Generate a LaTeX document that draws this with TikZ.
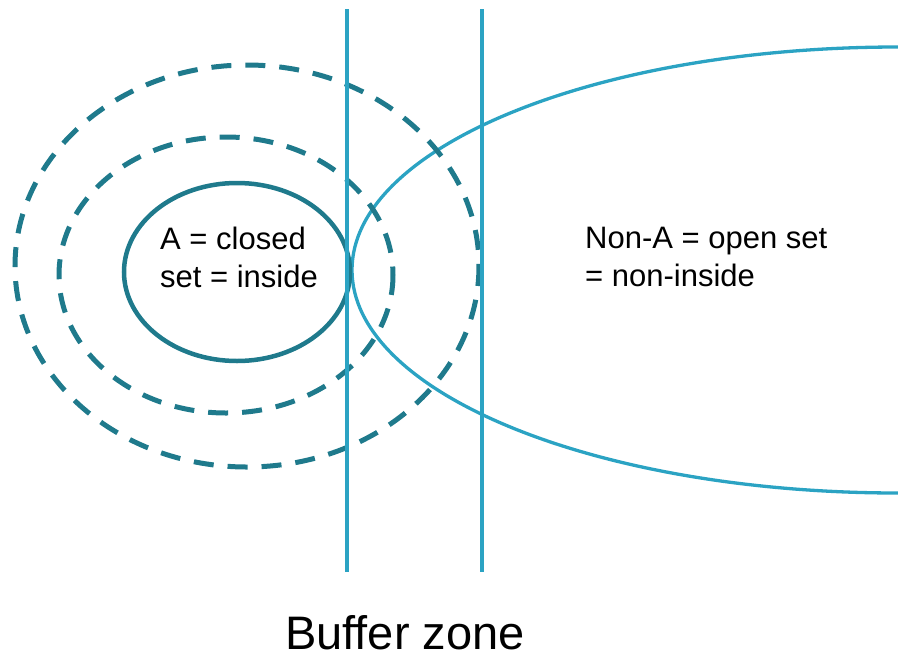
\documentclass[tikz,border=0pt]{standalone}
\usepackage{fontspec}
\setmainfont{Liberation Sans}
\definecolor{darkteal}{HTML}{1F7A8C}
\definecolor{lightteal}{HTML}{2BA3C3}
\begin{document}
\begin{tikzpicture}[x=1pt,y=-1pt,
  dashring/.style={draw=darkteal,line width=5pt,dash pattern=on 20pt off 14pt},
  solidring/.style={draw=darkteal,line width=4.5pt},
  bufline/.style={draw=lightteal,line width=3.8pt},
  openset/.style={draw=lightteal,line width=3.3pt},
  lbl/.style={font=\fontsize{31}{38}\selectfont,align=left,inner sep=0pt,anchor=base west},
  biglbl/.style={font=\fontsize{47}{56}\selectfont,inner sep=0pt,text depth=0pt,anchor=base west}]
\useasboundingbox (0,0) rectangle (898,657);
% open set (Non-A)
\draw[openset] (898,47) arc[start angle=270,end angle=90,x radius=546,y radius=223];
% dashed neighbourhoods
\draw[dashring] (247,266) ellipse[x radius=232,y radius=201];
\draw[dashring] (226,275) ellipse[x radius=167,y radius=138];
% closed set A
\draw[solidring] (237,272) ellipse[x radius=113,y radius=89];
% buffer zone lines
\coordinate (l1t) at (347,9);
\coordinate (l1b) at (347,572);
\coordinate (l2t) at (482,9);
\coordinate (l2b) at (482,572);
\draw[bufline] (l1t) -- (l1b);
\draw[bufline] (l2t) -- (l2b);
% labels
\node[lbl] (a) at (160,287) {A = closed\\set = inside};
\node[lbl] (na) at (585,286) {Non-A = open set\\= non-inside};
\node[biglbl] (bz) at (285,649) {Buffer zone};
\end{tikzpicture}
\end{document}
